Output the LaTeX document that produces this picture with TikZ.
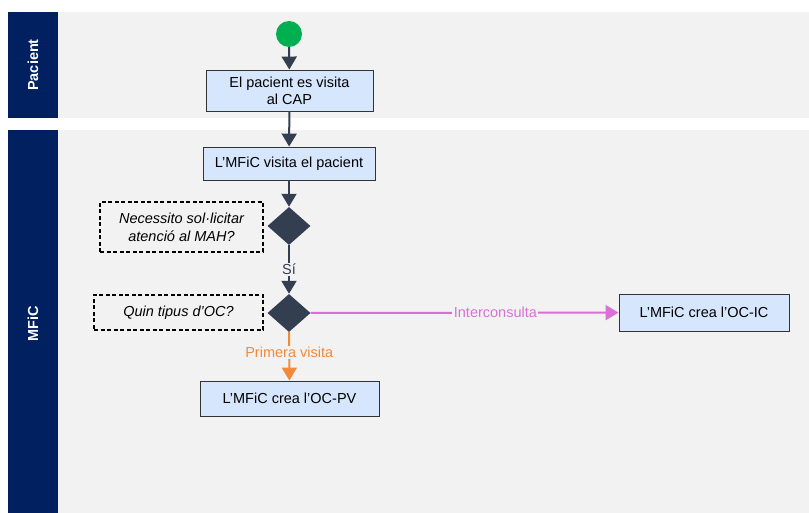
\documentclass[tikz,border=0pt]{standalone}
\usepackage{fontspec}
\setmainfont{Liberation Sans}
\usetikzlibrary{shapes.geometric}
\usetikzlibrary{arrows.meta}

\definecolor{navy}{HTML}{002060}
\definecolor{lanebg}{HTML}{F2F2F2}
\definecolor{actfill}{HTML}{D6E6FC}
\definecolor{slate}{HTML}{333F50}
\definecolor{pink}{HTML}{DA70D6}
\definecolor{orange}{HTML}{F28A3A}
\definecolor{startgreen}{HTML}{00B050}

\begin{document}
\begin{tikzpicture}[x=1pt,y=-1pt,font=\fontsize{14.5}{17}\selectfont]
	\tikzstyle{act}=[rectangle,draw=black!80,fill=actfill,line width=0.9pt,align=center,inner sep=0pt]
	\tikzstyle{dec}=[diamond,fill=slate,minimum width=43pt,minimum height=38pt,inner sep=0pt]
	\tikzstyle{note}=[rectangle,draw=black,dash pattern=on 4pt off 2.5pt,line width=1.3pt,fill=lanebg,align=center,font=\fontsize{14.5}{18}\selectfont\itshape,inner sep=0pt]
	\tikzstyle{flow}=[line width=2pt,draw=slate,-{Triangle[width=15pt,length=13pt]}]
	\tikzstyle{lbl}=[fill=lanebg,inner sep=1.5pt]
	\tikzstyle{lanetitle}=[rotate=90,text=white,font=\fontsize{14.5}{17}\selectfont\bfseries]

	\useasboundingbox[fill=white] (0,0) rectangle (809,513);

	% lanes
	\fill[lanebg] (58,12) rectangle (809,118);
	\fill[navy] (7.5,12) rectangle (58,118);
	\node[lanetitle] (pacient) at (33,65) {Pacient};
	\fill[lanebg] (58,130) rectangle (809,513);
	\fill[navy] (7.5,130) rectangle (58,513);
	\node[lanetitle] (mfic) at (33,324) {MFiC};

	% nodes
	\node[circle,fill=startgreen,minimum size=26pt,inner sep=0pt] (start) at (289,34) {};
	\node[act,minimum width=167pt,minimum height=41pt] (visita) at (289.5,90.5) {El pacient es visita\\al CAP};
	\node[act,minimum width=172pt,minimum height=33pt] (mfv) at (289,163.5) {L'MFiC visita el pacient};
	\node[dec] (d1) at (289,226) {};
	\node[note,minimum width=163pt,minimum height=50pt] (q1) at (181.5,227) {Necessito sol·licitar\\atenció al MAH?};
	\node[dec] (d2) at (289,313) {};
	\node[note,minimum width=169pt,minimum height=35pt] (q2) at (178.5,312.5) {Quin tipus d'OC?};
	\node[act,minimum width=179pt,minimum height=35pt] (ocpv) at (289.5,398.5) {L'MFiC crea l'OC-PV};
	\node[act,minimum width=170pt,minimum height=37pt] (ocic) at (704,312.5) {L'MFiC crea l'OC-IC};

	% connectors
	\draw[flow] (start) -- (visita);
	\draw[flow] (visita) -- (mfv);
	\draw[flow] (mfv) -- (d1);
	\draw[flow] (d1) -- node[lbl,text=slate] {Sí} (d2);
	\draw[flow,draw=orange,-{Triangle[width=15pt,length=13pt,fill=orange]}] (d2) -- node[lbl,text=orange,pos=0.42] {Primera visita} (ocpv);
	\draw[flow,draw=pink,-{Triangle[width=15pt,length=13pt,fill=pink]}] (d2) -- node[lbl,text=pink,pos=0.6] {Interconsulta} (ocic);
\end{tikzpicture}
\end{document}
